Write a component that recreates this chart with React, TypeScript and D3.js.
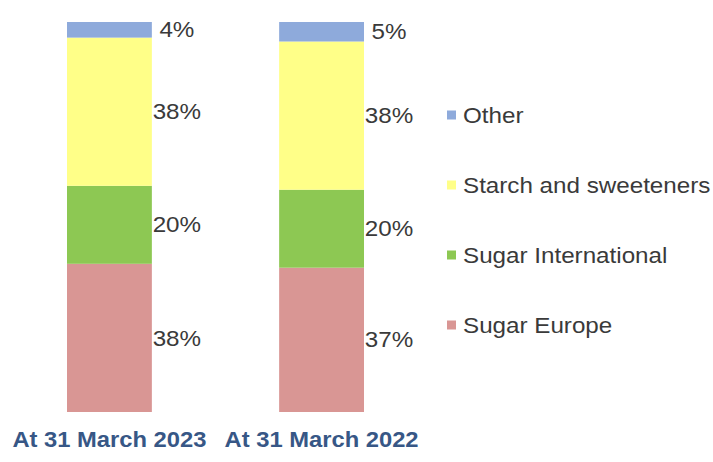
import * as d3 from 'd3'
import { useEffect, useRef } from 'react'

// categories (x) and series (bottom to top)
const periods = ['At 31 March 2023', 'At 31 March 2022']
const segments = ['Sugar Europe', 'Sugar International', 'Starch and sweeteners', 'Other']

const sugarEurope = [38, 37]
const sugarInternational = [20, 20]
const starchSweeteners = [38, 38]
const other = [4, 5]

// legend is listed top to bottom
const legendOrder = ['Other', 'Starch and sweeteners', 'Sugar International', 'Sugar Europe']

const colors: Record<string, string> = {
  'Sugar Europe': '#d99694',
  'Sugar International': '#8dc853',
  'Starch and sweeteners': '#ffff88',
  'Other': '#8eaadb',
}

export default function App() {
  const svgRef = useRef(null)
  const width = 713
  const height = 462

  useEffect(() => {
    document.body.style.margin = '0'

    const svg = d3.select(svgRef.current)
    svg.selectAll('*').remove()

    const rows = periods.map((p, i) => ({
      period: p,
      'Sugar Europe': sugarEurope[i],
      'Sugar International': sugarInternational[i],
      'Starch and sweeteners': starchSweeteners[i],
      'Other': other[i],
    }))

    const stacked = d3.stack<any>().keys(segments)(rows)

    const xScale = d3.scaleBand()
      .domain(periods)
      .range([67, 364])
      .paddingInner(0.6)
      .paddingOuter(0)

    const yScale = d3.scaleLinear()
      .domain([0, 100])
      .range([412, 22])

    svg.append('rect')
      .attr('width', width)
      .attr('height', height)
      .attr('fill', '#ffffff')

    const layers = svg.selectAll('.layer')
      .data(stacked)
      .enter()
      .append('g')
      .attr('class', 'layer')
      .attr('fill', d => colors[d.key])

    layers.selectAll('rect')
      .data(d => d)
      .enter()
      .append('rect')
      .attr('x', (d: any) => xScale(d.data.period)!)
      .attr('y', d => yScale(d[1]))
      .attr('width', xScale.bandwidth())
      .attr('height', d => yScale(d[0]) - yScale(d[1]))

    // value labels to the right of each bar
    layers.selectAll('text')
      .data(d => d)
      .enter()
      .append('text')
      .attr('transform', (d: any) => {
        const x = xScale(d.data.period)! + xScale.bandwidth() + 25
        const y = (yScale(d[0]) + yScale(d[1])) / 2
        return `translate(${x},${y}) scale(1.1,1)`
      })
      .attr('text-anchor', 'middle')
      .attr('dominant-baseline', 'central')
      .attr('fill', '#3a3a3a')
      .style('font-family', '"Liberation Sans", Arial, sans-serif')
      .style('font-size', '22px')
      .text(d => `${d[1] - d[0]}%`)

    // category labels
    svg.selectAll('.cat')
      .data(periods)
      .enter()
      .append('text')
      .attr('class', 'cat')
      .attr('transform', d => `translate(${xScale(d)! + xScale.bandwidth() / 2}, 447) scale(1.08,1)`)
      .attr('text-anchor', 'middle')
      .attr('fill', '#375786')
      .style('font-family', '"Liberation Sans", Arial, sans-serif')
      .style('font-size', '22px')
      .style('font-weight', 'bold')
      .text(d => d)

    // legend
    const legendY = d3.scalePoint()
      .domain(legendOrder)
      .range([115, 325])

    const legend = svg.selectAll('.legend')
      .data(legendOrder)
      .enter()
      .append('g')
      .attr('class', 'legend')
      .attr('transform', d => `translate(447, ${legendY(d)})`)

    legend.append('rect')
      .attr('x', 0)
      .attr('y', -4.5)
      .attr('width', 9)
      .attr('height', 9)
      .attr('fill', d => colors[d])

    legend.append('text')
      .attr('transform', 'translate(16,0) scale(1.1,1)')
      .attr('dominant-baseline', 'central')
      .attr('fill', '#3a3a3a')
      .style('font-family', '"Liberation Sans", Arial, sans-serif')
      .style('font-size', '22px')
      .text(d => d)
  }, [svgRef])

  return (
    <svg ref={svgRef} width={width} height={height} style={{ display: 'block' }}></svg>
  )
}
